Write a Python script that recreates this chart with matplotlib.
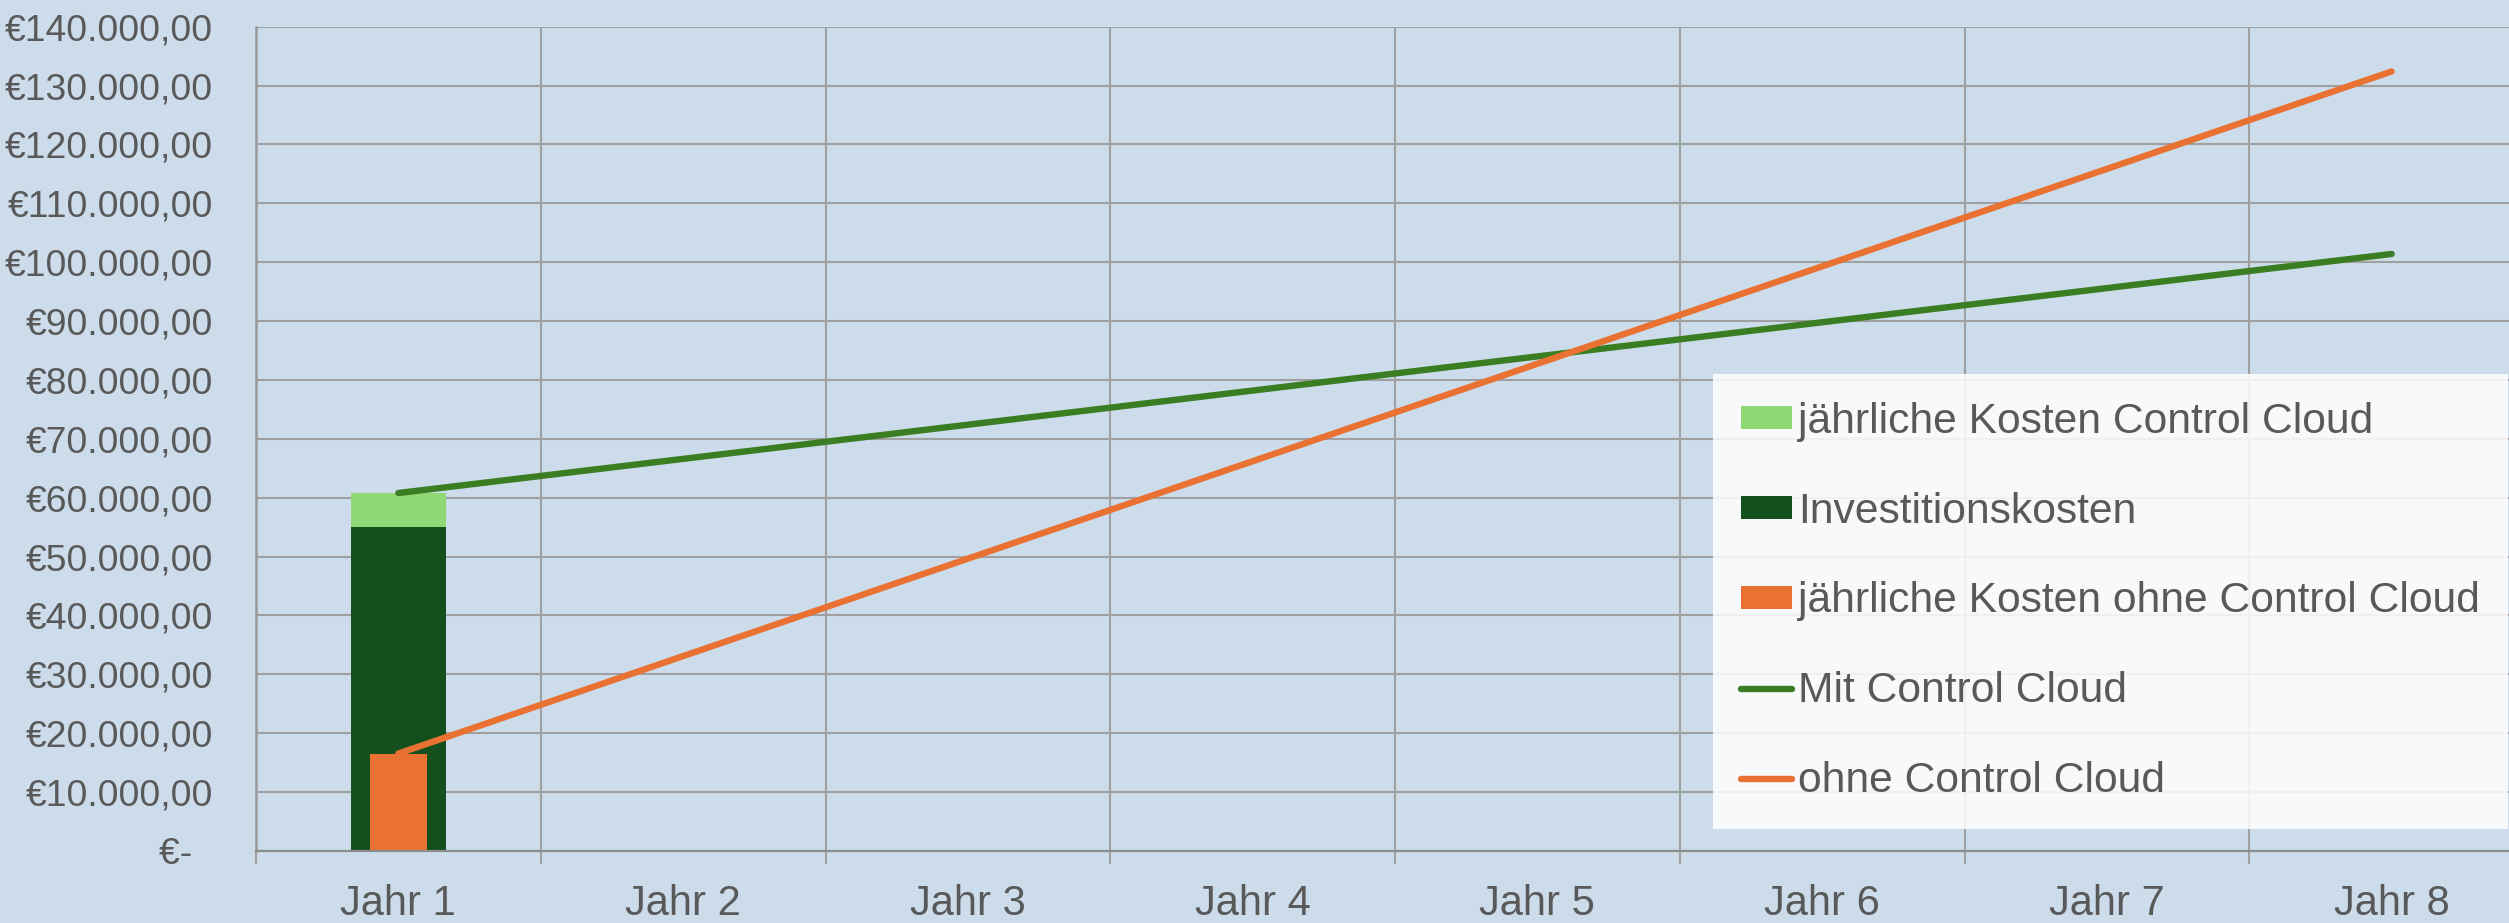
import matplotlib.pyplot as plt
import numpy as np

# Daten
jahre = ['Jahr 1', 'Jahr 2', 'Jahr 3', 'Jahr 4', 'Jahr 5', 'Jahr 6', 'Jahr 7', 'Jahr 8']
investition = [55000, 0, 0, 0, 0, 0, 0, 0]
kosten_cc = [5800, 0, 0, 0, 0, 0, 0, 0]
kosten_ohne = [16550, 0, 0, 0, 0, 0, 0, 0]
mit_cc = [60800, 66600, 72400, 78200, 84000, 89800, 95600, 101400]
ohne_cc = [16550, 33100, 49650, 66200, 82750, 99300, 115850, 132400]
y_ticks = [0, 10000, 20000, 30000, 40000, 50000, 60000, 70000,
           80000, 90000, 100000, 110000, 120000, 130000, 140000]

bg = '#CCDCEB'
grid_col = '#A0A0A0'
text_col = '#595959'
plt.rcParams['font.family'] = ['Liberation Sans', 'DejaVu Sans']


def euro(v):
    if v == 0:
        return '€-  '
    s = f'{v:,.2f}'.replace(',', 'X').replace('.', ',').replace('X', '.')
    return '€' + s


fig = plt.figure(figsize=(25.09, 9.23), dpi=100, facecolor=bg)
ax = fig.add_axes([256 / 2509, 1 - 851 / 923, (2534 - 256) / 2509, (851 - 26.7) / 923])
ax.set_facecolor(bg)

x = np.arange(len(jahre))

# Balken (gestapelt) und Balken ohne Control Cloud davor
b_inv = ax.bar(x, investition, width=0.334, color='#14501E', zorder=2)
b_cc = ax.bar(x, kosten_cc, width=0.334, bottom=investition, color='#8ED973', zorder=2)
b_ohne = ax.bar(x, kosten_ohne, width=0.2, color='#E97132', zorder=2.5)

# Linien
l_mit, = ax.plot(x, mit_cc, color='#3A7D22', lw=4.6, solid_capstyle='round', zorder=3)
l_ohne, = ax.plot(x, ohne_cc, color='#E97132', lw=4.6, solid_capstyle='round', zorder=3)

# Achsen
ax.set_xlim(-0.5, len(jahre) - 0.5)
ax.set_ylim(0, 140000)
ax.set_yticks(y_ticks)
ax.set_yticklabels([euro(v) for v in y_ticks])
ax.set_xticks(np.arange(-0.5, len(jahre)), labels=[''] * (len(jahre) + 1))
ax.set_xticks(x, labels=jahre, minor=True)

ax.tick_params(axis='y', length=0, pad=31, labelsize=26.8, labelcolor=text_col)
ax.tick_params(axis='x', which='major', length=9, width=1.5, color=grid_col)
ax.tick_params(axis='x', which='minor', length=0, pad=24, labelsize=30, labelcolor=text_col)

ax.grid(True, which='major', color=grid_col, lw=1.5, zorder=0)
ax.set_axisbelow(True)
for side in ['top', 'right']:
    ax.spines[side].set_visible(False)
ax.spines['left'].set_color('#999999')
ax.spines['left'].set_linewidth(1.8)
ax.spines['bottom'].set_color('#8C8C8C')
ax.spines['bottom'].set_linewidth(1.6)

# Legende
handles = [b_cc, b_inv, b_ohne, l_mit, l_ohne]
labels = ['jährliche Kosten Control Cloud', 'Investitionskosten',
          'jährliche Kosten ohne Control Cloud', 'Mit Control Cloud', 'ohne Control Cloud']
leg = fig.legend(handles, labels,
                 loc='upper left', bbox_to_anchor=(1713 / 2509, 1 - 374 / 923),
                 borderaxespad=0, fontsize=30.7, frameon=True, facecolor='white',
                 framealpha=0.85, edgecolor='none', fancybox=False,
                 handlelength=1.2, handleheight=0.45, handletextpad=0.15,
                 labelspacing=1.17, borderpad=0.65, labelcolor=text_col)

plt.savefig('out.png', dpi=100, facecolor=bg)
plt.close()
